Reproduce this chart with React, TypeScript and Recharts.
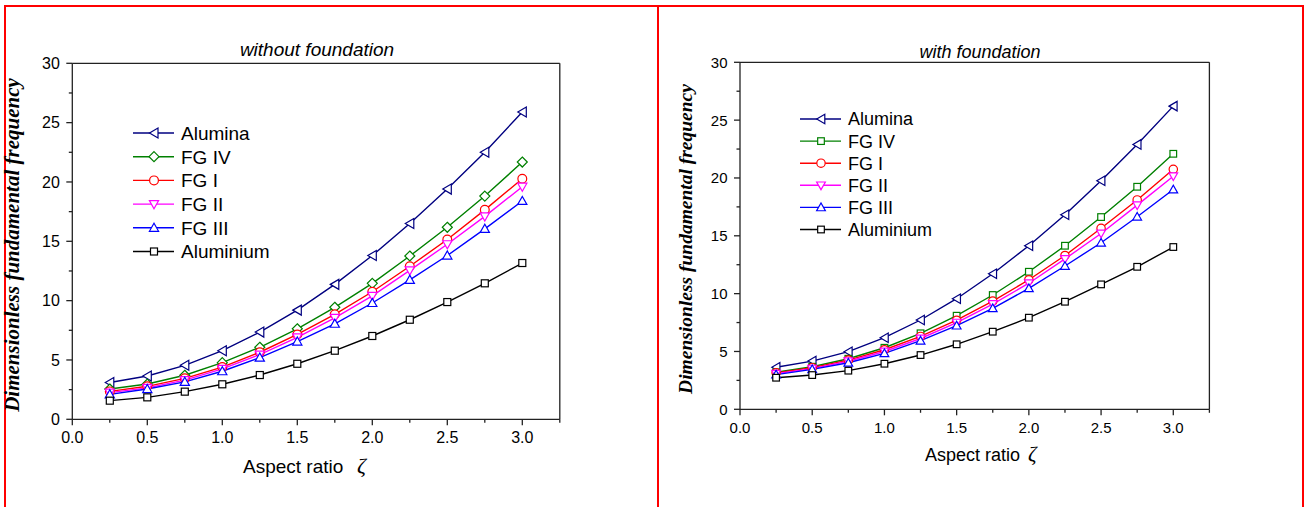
import { Legend, Line, LineChart, ReferenceLine, XAxis, YAxis } from "recharts";

// aspect ratio ζ values used in both panels
const aspectRatio = [0.25, 0.5, 0.75, 1.0, 1.25, 1.5, 1.75, 2.0, 2.25, 2.5, 2.75, 3.0];

// without foundation
const aluminaFree = [3.1, 3.65, 4.55, 5.78, 7.35, 9.2, 11.37, 13.8, 16.5, 19.4, 22.5, 25.9];
const fg4Free = [2.55, 2.97, 3.71, 4.77, 6.07, 7.63, 9.44, 11.46, 13.76, 16.18, 18.81, 21.68];
const fg1Free = [2.35, 2.78, 3.45, 4.4, 5.65, 7.15, 8.85, 10.75, 12.9, 15.15, 17.65, 20.27];
const fg2Free = [2.25, 2.65, 3.3, 4.25, 5.45, 6.9, 8.55, 10.4, 12.55, 14.75, 17.1, 19.6];
const fg3Free = [2.1, 2.55, 3.15, 4.05, 5.2, 6.55, 8.05, 9.8, 11.75, 13.8, 16.05, 18.4];
const aluminiumFree = [1.57, 1.85, 2.33, 2.95, 3.73, 4.68, 5.78, 7.02, 8.39, 9.88, 11.46, 13.17];

// with foundation
const aluminaFound = [3.63, 4.17, 4.98, 6.19, 7.72, 9.56, 11.72, 14.14, 16.82, 19.76, 22.9, 26.21];
const fg4Found = [3.2, 3.68, 4.37, 5.32, 6.57, 8.09, 9.88, 11.89, 14.14, 16.62, 19.24, 22.09];
const fg1Found = [3.15, 3.6, 4.25, 5.15, 6.3, 7.7, 9.35, 11.2, 13.3, 15.65, 18.1, 20.75];
const fg2Found = [3.08, 3.52, 4.15, 5.0, 6.12, 7.5, 9.1, 10.9, 13.0, 15.2, 17.65, 20.15];
const fg3Found = [3.0, 3.45, 4.02, 4.84, 5.93, 7.23, 8.73, 10.46, 12.39, 14.4, 16.65, 19.0];
const aluminiumFound = [2.73, 2.96, 3.34, 3.94, 4.69, 5.62, 6.71, 7.92, 9.3, 10.8, 12.32, 14.03];

const xTicks = [0, 0.25, 0.5, 0.75, 1.0, 1.25, 1.5, 1.75, 2.0, 2.25, 2.5, 2.75, 3.0, 3.25];
const yTicks = [0, 2.5, 5, 7.5, 10, 12.5, 15, 17.5, 20, 22.5, 25, 27.5, 30];

const SANS = "'Liberation Sans', Arial, sans-serif";
const SERIF = "'Liberation Serif', 'Times New Roman', serif";
const AXIS = "#222";
const INK = "#000";

type Shape = "left" | "diamond" | "square" | "circle" | "down" | "up";

interface Series {
  key: string;
  name: string;
  color: string;
  shape: Shape;
}

const seriesFree: Series[] = [
  { key: "alumina", name: "Alumina", color: "#000080", shape: "left" },
  { key: "fg4", name: "FG IV", color: "#008000", shape: "diamond" },
  { key: "fg1", name: "FG I", color: "#ff0000", shape: "circle" },
  { key: "fg2", name: "FG II", color: "#ff00ff", shape: "down" },
  { key: "fg3", name: "FG III", color: "#0000ff", shape: "up" },
  { key: "aluminium", name: "Aluminium", color: "#000000", shape: "square" },
];

const seriesFound: Series[] = seriesFree.map((s) => (s.key === "fg4" ? { ...s, shape: "square" } : s));

function buildData(cols: number[][]) {
  return aspectRatio.map((x, i) => ({
    x,
    alumina: cols[0][i],
    fg4: cols[1][i],
    fg1: cols[2][i],
    fg2: cols[3][i],
    fg3: cols[4][i],
    aluminium: cols[5][i],
  }));
}

const dataFree = buildData([aluminaFree, fg4Free, fg1Free, fg2Free, fg3Free, aluminiumFree]);
const dataFound = buildData([aluminaFound, fg4Found, fg1Found, fg2Found, fg3Found, aluminiumFound]);

function Marker({ cx, cy, shape, color, s }: { cx: number; cy: number; shape: Shape; color: string; s: number }) {
  const common = { fill: "#fff", stroke: color, strokeWidth: 1.2 };
  switch (shape) {
    case "left":
      return <polygon points={`${cx - 4.5 * s},${cy} ${cx + 4 * s},${cy - 5 * s} ${cx + 4 * s},${cy + 5 * s}`} {...common} />;
    case "diamond":
      return <polygon points={`${cx},${cy - 5 * s} ${cx + 5 * s},${cy} ${cx},${cy + 5 * s} ${cx - 5 * s},${cy}`} {...common} />;
    case "square":
      return <rect x={cx - 3.5 * s} y={cy - 3.5 * s} width={7 * s} height={7 * s} {...common} />;
    case "circle":
      return <circle cx={cx} cy={cy} r={4.4 * s} {...common} />;
    case "down":
      return <polygon points={`${cx - 4.6 * s},${cy - 3.5 * s} ${cx + 4.6 * s},${cy - 3.5 * s} ${cx},${cy + 4.6 * s}`} {...common} />;
    case "up":
      return <polygon points={`${cx - 4.6 * s},${cy + 3.5 * s} ${cx + 4.6 * s},${cy + 3.5 * s} ${cx},${cy - 4.6 * s}`} {...common} />;
  }
}

interface PanelProps {
  data: ReturnType<typeof buildData>;
  series: Series[];
  width: number;
  height: number;
  yAxisWidth: number;
  margin: { top: number; right: number; bottom: number; left: number };
  tickFont: number;
  legendFont: number;
  legendLeft: number;
  legendTop: number;
  legendGap: number;
  markerScale: number;
}

function Panel(p: PanelProps) {
  const xTick = (props: any) => {
    const { x, y, payload } = props;
    const v = payload.value as number;
    const major = Math.abs(v * 2 - Math.round(v * 2)) < 1e-6;
    return (
      <g>
        <line x1={x} x2={x} y1={y} y2={y + (major ? 6 : 3.5)} stroke={AXIS} strokeWidth={1.3} />
        {major && v <= 3 && (
          <text x={x} y={y + 24} textAnchor="middle" fontFamily={SANS} fontSize={p.tickFont} fill={INK}>
            {v.toFixed(1)}
          </text>
        )}
      </g>
    );
  };

  const yTick = (props: any) => {
    const { x, y, payload } = props;
    const v = payload.value as number;
    const major = v % 5 === 0;
    return (
      <g>
        <line x1={x - (major ? 6 : 3.5)} x2={x} y1={y} y2={y} stroke={AXIS} strokeWidth={1.3} />
        {major && (
          <text x={x - 12.5} y={y} dy="0.36em" textAnchor="end" fontFamily={SANS} fontSize={p.tickFont} fill={INK}>
            {v}
          </text>
        )}
      </g>
    );
  };

  const legendContent = () => {
    const rowH = p.legendGap;
    return (
      <svg width={200} height={rowH * 6 + 10} style={{ overflow: "visible" }}>
        {p.series.map((s, i) => {
          const cy = 12 + i * rowH;
          return (
            <g key={s.key}>
              <line x1={0} x2={41} y1={cy} y2={cy} stroke={s.color} strokeWidth={1.4} />
              <Marker cx={21} cy={cy} shape={s.shape} color={s.color} s={p.markerScale} />
              <text x={48} y={cy} dy="0.36em" fontFamily={SANS} fontSize={p.legendFont} fill={INK}>
                {s.name}
              </text>
            </g>
          );
        })}
      </svg>
    );
  };

  return (
    <LineChart width={p.width} height={p.height} data={p.data} margin={p.margin}>
      <XAxis
        type="number"
        dataKey="x"
        domain={[0, 3.25]}
        ticks={xTicks}
        interval={0}
        tick={xTick}
        tickLine={false}
        tickSize={0}
        tickMargin={0}
        height={30}
        axisLine={{ stroke: AXIS, strokeWidth: 1.3 }}
        allowDataOverflow
      />
      <YAxis
        type="number"
        domain={[0, 30]}
        ticks={yTicks}
        interval={0}
        tick={yTick}
        tickLine={false}
        tickSize={0}
        tickMargin={0}
        width={p.yAxisWidth}
        axisLine={{ stroke: AXIS, strokeWidth: 1.3 }}
        allowDataOverflow
      />
      <ReferenceLine y={30} stroke={AXIS} strokeWidth={1.3} />
      <ReferenceLine x={3.25} stroke={AXIS} strokeWidth={1.3} />
      <Legend
        layout="vertical"
        align="center"
        verticalAlign="middle"
        content={legendContent}
        wrapperStyle={{ left: p.legendLeft, top: p.legendTop, width: 200 }}
      />
      {p.series.map((s) => (
        <Line
          key={s.key}
          type="linear"
          dataKey={s.key}
          name={s.name}
          stroke={s.color}
          strokeWidth={1.4}
          isAnimationActive={false}
          activeDot={false}
          dot={(d: any) => (
            <Marker key={`${s.key}-${d.index}`} cx={d.cx} cy={d.cy} shape={s.shape} color={s.color} s={p.markerScale} />
          )}
        />
      ))}
    </LineChart>
  );
}

export default function App() {
  return (
    <div style={{ position: "absolute", left: 0, top: 0, width: 1306, height: 507, overflow: "hidden", background: "#fff" }}>
      {/* red frames */}
      <div style={{ position: "absolute", left: 4, top: 5, width: 1296, height: 520, border: "2px solid #ff0000" }} />
      <div style={{ position: "absolute", left: 657, top: 5, width: 2, height: 510, background: "#ff0000" }} />

      <div style={{ position: "absolute", left: 0, top: 0 }}>
        <Panel
          data={dataFree}
          series={seriesFree}
          width={658}
          height={507}
          yAxisWidth={72.3}
          margin={{ top: 63.3, right: 98.2, bottom: 57.7, left: 0 }}
          tickFont={16}
          legendFont={19}
          legendLeft={133}
          legendTop={121.3}
          legendGap={23.7}
          markerScale={1}
        />
      </div>
      <div style={{ position: "absolute", left: 658, top: 0 }}>
        <Panel
          data={dataFound}
          series={seriesFound}
          width={648}
          height={507}
          yAxisWidth={82}
          margin={{ top: 62.3, right: 96.6, bottom: 67.7, left: 0 }}
          tickFont={15}
          legendFont={18}
          legendLeft={142}
          legendTop={107.3}
          legendGap={22.1}
          markerScale={0.95}
        />
      </div>

      {/* titles and axis labels */}
      <svg width={1306} height={507} style={{ position: "absolute", left: 0, top: 0, pointerEvents: "none" }}>
        <text x={317} y={56} textAnchor="middle" fontFamily={SANS} fontStyle="italic" fontSize={19} fill={INK}>
          without foundation
        </text>
        <text x={980} y={58} textAnchor="middle" fontFamily={SANS} fontStyle="italic" fontSize={18} fill={INK}>
          with foundation
        </text>

        <text x={243} y={473} fontFamily={SANS} fontSize={19} fill={INK}>
          Aspect ratio
        </text>
        <text x={357} y={473} fontFamily={SERIF} fontStyle="italic" fontSize={22} fill={INK}>
          ζ
        </text>
        <text x={925} y={461} fontFamily={SANS} fontSize={18} fill={INK}>
          Aspect ratio
        </text>
        <text x={1028} y={461} fontFamily={SERIF} fontStyle="italic" fontSize={21} fill={INK}>
          ζ
        </text>

        <text
          transform="translate(19,245) rotate(-90)"
          textAnchor="middle"
          fontFamily={SERIF}
          fontWeight="bold"
          fontStyle="italic"
          fontSize={21}
          fill={INK}
        >
          Dimensionless fundamental frequency
        </text>
        <text
          transform="translate(692,239) rotate(-90)"
          textAnchor="middle"
          fontFamily={SERIF}
          fontWeight="bold"
          fontStyle="italic"
          fontSize={19.5}
          fill={INK}
        >
          Dimensionless fundamental frequency
        </text>
      </svg>
    </div>
  );
}
